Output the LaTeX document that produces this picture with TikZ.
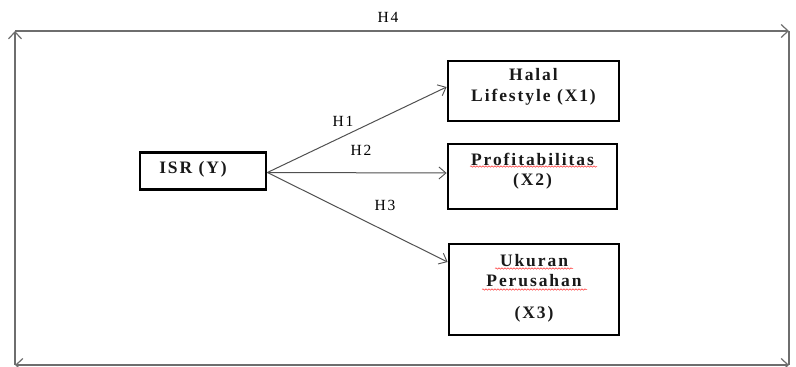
\documentclass[tikz,border=0pt]{standalone}
\usepackage{fontspec}
\setmainfont{Liberation Serif}
\newfontfamily\boxfont[LetterSpace=11]{Liberation Serif}
\newfontfamily\labfont[LetterSpace=12]{Liberation Serif}
\usetikzlibrary{arrows.meta,decorations.pathmorphing}
\definecolor{framegray}{HTML}{6E6E6E}
\definecolor{linegray}{HTML}{505050}
\tikzset{
  varbox/.style={draw=black,line width=2.8pt,rectangle,inner sep=0pt,fill=white},
  boxtext/.style={font=\boxfont\bfseries\fontsize{17.5}{20.5}\selectfont,align=center,inner sep=0pt,text=black!90},
  hlabel/.style={font=\labfont\fontsize{15.5}{16}\selectfont,inner sep=0pt,text=black},
  framearrow/.style={draw=framegray,line width=1.4pt,-{Straight Barb[length=7pt,width=13pt,line width=1.2pt]}},
  frameline/.style={draw=framegray,line width=1.4pt},
  conn/.style={draw=linegray,line width=1pt,-{Straight Barb[length=7pt,width=12pt,line width=0.9pt]}},
  spell/.style={draw=red!80,line width=0.5pt,decorate,decoration={snake,amplitude=0.7pt,segment length=3pt}}
}
\begin{document}
\begin{tikzpicture}[x=1pt,y=-1pt]
\useasboundingbox (0,0) rectangle (796,367);
% frame
\coordinate (tl) at (15,31);
\coordinate (tr) at (789,31);
\coordinate (br) at (789,365);
\coordinate (bl) at (15,365);
\draw[framearrow] (bl) -- (tl);
\draw[framearrow] (tl) -- (tr);
\draw[frameline] (tr) -- (br);
\draw[frameline,{Straight Barb[length=7pt,width=13pt,line width=1.2pt]}-{Straight Barb[length=7pt,width=13pt,line width=1.2pt]}] (br) -- (bl);
\node[hlabel] (h4) at (388,17) {H4};
% boxes
\node[varbox,minimum width=126pt,minimum height=37pt] (isr) at (203,171) {};
\node[boxtext] (isrt) at (193,169) {ISR (Y)};
\node[varbox,minimum width=171pt,minimum height=60pt] (x1) at (533.5,91) {};
\node[boxtext] (x1t) at (533.5,87) {Halal\\Lifestyle (X1)};
\node[varbox,minimum width=169pt,minimum height=65pt] (x2) at (532.5,176.5) {};
\node[boxtext] (x2t) at (532.5,171) {Profitabilitas\\(X2)};
\node[varbox,minimum width=170pt,minimum height=91pt] (x3) at (534,289.5) {};
\node[boxtext] (x3t) at (534,288) {Ukuran\\Perusahan\\[11pt](X3)};
% spell-check underlines
\draw[spell] (470,166.5) -- (597,166.5);
\draw[spell] (495,268.5) -- (573,268.5);
\draw[spell] (482,289.5) -- (587,289.5);
% connectors
\draw[conn] ([yshift=-1.5pt]isr.east) -- ([yshift=4pt]x1.west);
\draw[conn] ([yshift=-1.5pt]isr.east) -- ([yshift=3.5pt]x2.west);
\draw[conn] ([yshift=-1.5pt]isr.east) -- ([yshift=27.5pt]x3.west);
\node[hlabel] (h1) at (343,121) {H1};
\node[hlabel] (h2) at (361,150.5) {H2};
\node[hlabel] (h3) at (385,205) {H3};
\end{tikzpicture}
\end{document}
